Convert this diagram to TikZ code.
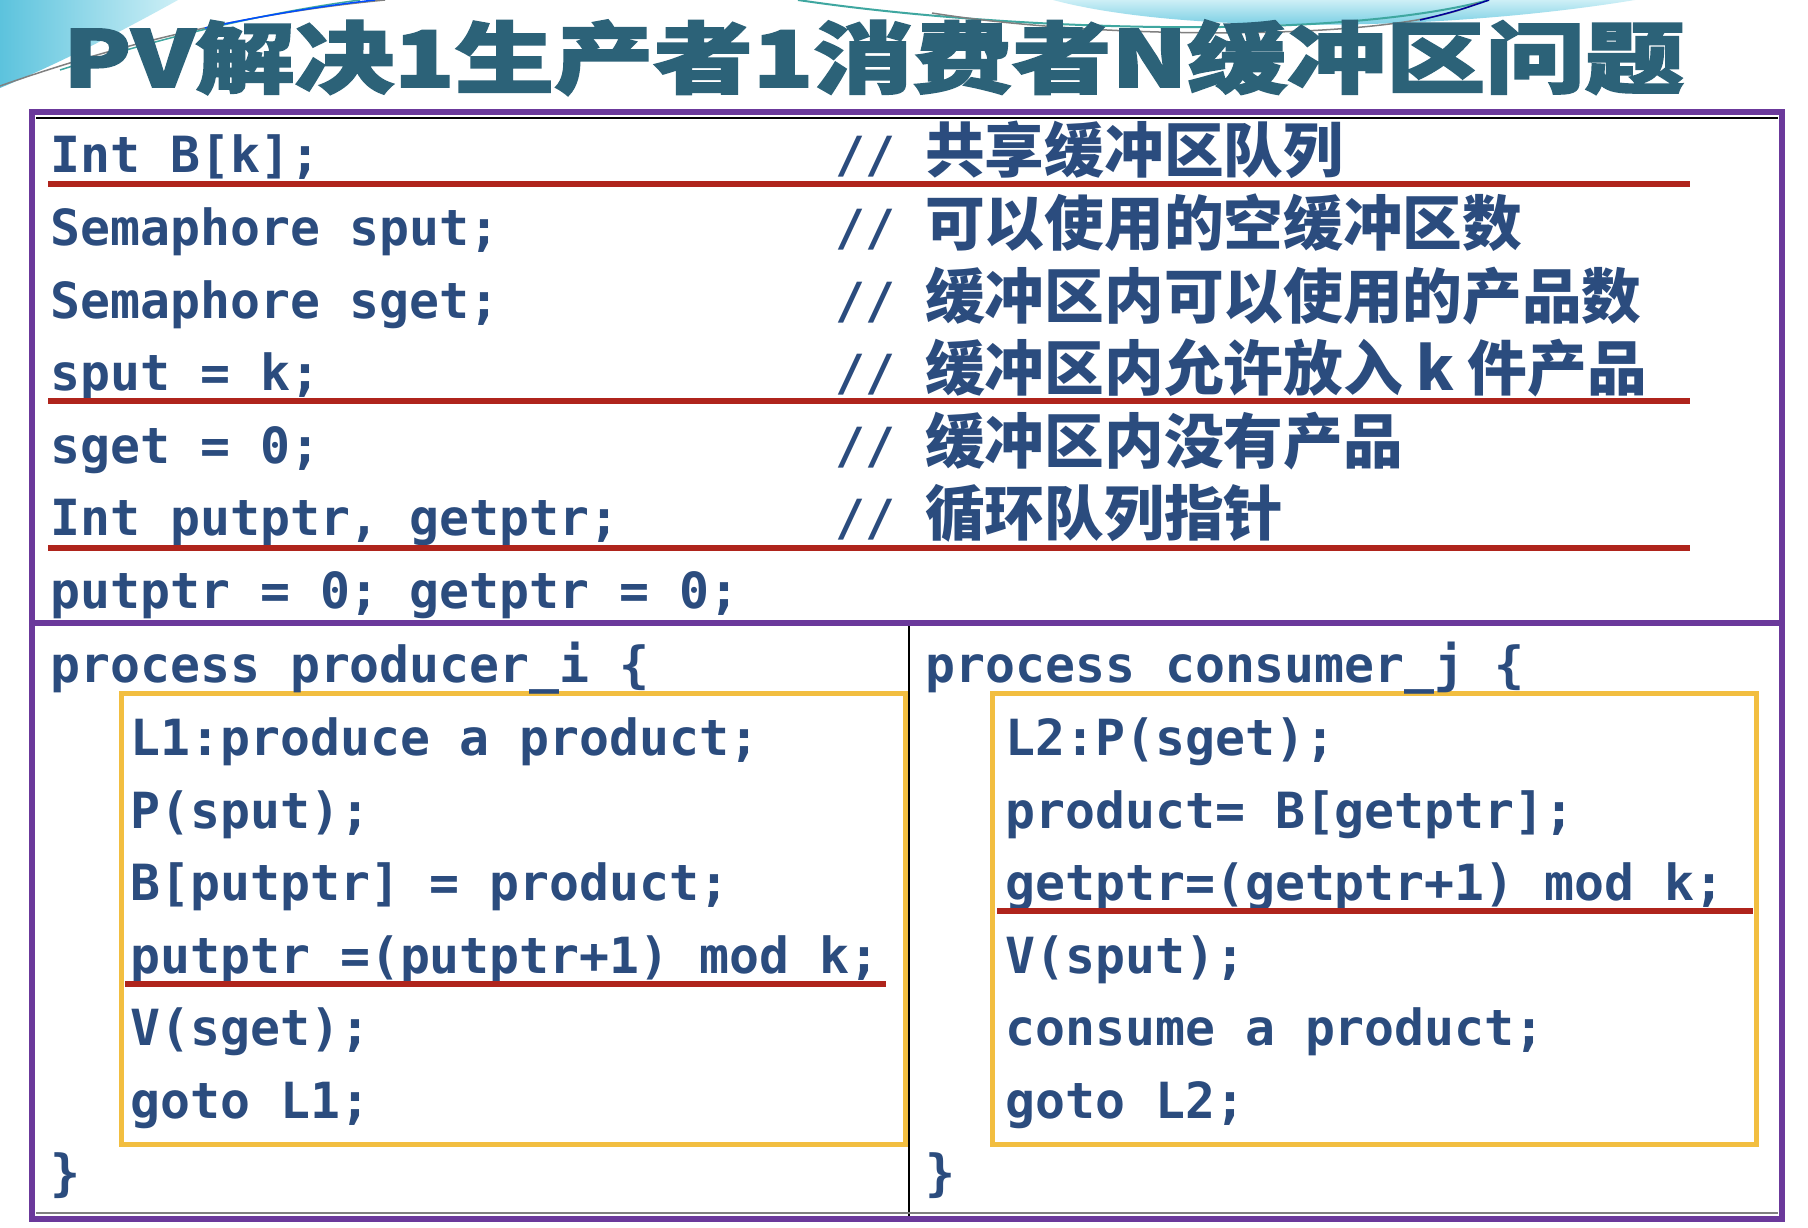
\documentclass[tikz,border=0pt]{standalone}
\usepackage{fontspec}
\usepackage{graphicx}
\newfontfamily\codefont{DejaVu Sans Mono}
\newfontfamily\cjkfont{Noto Sans CJK SC}
\newfontfamily\titlefont{Noto Sans CJK SC}[BoldFeatures={FakeBold=2}]
\definecolor{codeblue}{HTML}{2B4C7E}
\definecolor{titleteal}{HTML}{2C6278}
\definecolor{boxpurple}{HTML}{6B399B}
\definecolor{markred}{HTML}{AF241C}
\definecolor{boxyellow}{HTML}{F2BE40}
\definecolor{decocyan}{HTML}{5CC3DD}
\definecolor{decolight}{HTML}{CDEFF6}
\definecolor{decoteal}{HTML}{3FA7A0}
\newcommand\cmtline[1]{\makebox[90pt][l]{//}{\cjkfont\bfseries\fontsize{59.7pt}{62pt}\selectfont #1}}
\begin{document}
\begin{tikzpicture}[x=1pt,y=-1pt,
  code/.style={anchor=base west,inner sep=0pt,text=codeblue,
    font=\frenchspacing\codefont\bfseries\fontsize{49.8pt}{60pt}\selectfont},
  outerframe/.style={draw=boxpurple,line width=6pt},
  ybox/.style={draw=boxyellow,line width=5pt},
  redline/.style={draw=markred,line width=6pt},
  divline/.style={draw=black,line width=1.5pt}]
\useasboundingbox (0,0) rectangle (1808,1228);
\fill[white] (0,0) rectangle (1808,1228);
% decorations
\shade[left color=decocyan,right color=decolight] (0,0) -- (178,0) .. controls (115,35) and (55,65) .. (0,88) -- cycle;
\draw[gray,line width=1.5pt] (0,86) .. controls (130,40) and (260,12) .. (385,0);
\draw[decoteal,line width=1.5pt] (60,70) .. controls (170,35) and (270,12) .. (360,0);
\draw[blue!70!cyan,line width=1.5pt] (205,28) .. controls (270,14) and (330,5) .. (375,0);
\shade[top color=decolight,bottom color=decocyan] (1053,0) .. controls (1180,34) and (1440,32) .. (1635,0) -- cycle;
\draw[decoteal,line width=2pt] (798,0) .. controls (1000,30) and (1330,42) .. (1489,0);
\draw[gray,line width=1.5pt] (932,13) .. controls (1100,40) and (1400,42) .. (1477,3);
\draw[blue!60!black,line width=1.5pt] (1420,20) .. controls (1455,12) and (1475,5) .. (1489,0);
% title
\node[anchor=base west,inner sep=0pt,text=titleteal,
  font=\titlefont\bfseries\fontsize{78pt}{80pt}\selectfont] (title) at (63,87)
  {\resizebox{1621pt}{\height}{PV解决1生产者1消费者N缓冲区问题}};
% frame coordinates
\coordinate (tl) at (32,112);
\coordinate (br) at (1782,1219);
\coordinate (ml) at (32,623);
\coordinate (mr) at (1782,623);
\coordinate (vt) at (909,623);
\coordinate (vb) at (909,1219);
% yellow boxes
\draw[ybox] (121,693) rectangle (905,1144);
\draw[ybox] (992,693) rectangle (1756,1144);
% top declarations
\node[code] (d1) at (50,172.5) {Int B[k];};
\node[code] (d2) at (50,245) {Semaphore sput;};
\node[code] (d3) at (50,318) {Semaphore sget;};
\node[code] (d4) at (50,390) {sput = k;};
\node[code] (d5) at (50,463) {sget = 0;};
\node[code] (d6) at (50,535) {Int putptr, getptr;};
\node[code] (d7) at (50,608) {putptr = 0; getptr = 0;};
\node[code] (c1) at (835,172.5) {\cmtline{共享缓冲区队列}};
\node[code] (c2) at (835,245) {\cmtline{可以使用的空缓冲区数}};
\node[code] (c3) at (835,318) {\cmtline{缓冲区内可以使用的产品数}};
\node[code] (c4) at (835,390) {\cmtline{缓冲区内允许放入 k 件产品}};
\node[code] (c5) at (835,463) {\cmtline{缓冲区内没有产品}};
\node[code] (c6) at (835,535) {\cmtline{循环队列指针}};
% producer
\node[code] (p0) at (50,682) {process producer\_i \{};
\node[code] (p1) at (130,755) {L1:produce a product;};
\node[code] (p2) at (130,828) {P(sput);};
\node[code] (p3) at (130,900) {B[putptr] = product;};
\node[code] (p4) at (130,973) {putptr =(putptr+1) mod k;};
\node[code] (p5) at (130,1045) {V(sget);};
\node[code] (p6) at (130,1118) {goto L1;};
\node[code] (p7) at (50,1190) {\}};
% consumer
\node[code] (q0) at (925,682) {process consumer\_j \{};
\node[code] (q1) at (1005,755) {L2:P(sget);};
\node[code] (q2) at (1005,828) {product= B[getptr];};
\node[code] (q3) at (1005,900) {getptr=(getptr+1) mod k;};
\node[code] (q4) at (1005,973) {V(sput);};
\node[code] (q5) at (1005,1045) {consume a product;};
\node[code] (q6) at (1005,1118) {goto L2;};
\node[code] (q7) at (925,1190) {\}};
% red marks
\draw[redline] (48,184.5) -- (1690,184.5);
\draw[redline] (48,401) -- (1690,401);
\draw[redline] (48,548) -- (1690,548);
\draw[redline] (125,984) -- (886,984);
\draw[redline] (997,911) -- (1753,911);
% frame
\draw[divline] (vt) -- (vb);
\draw[divline] (36,118) -- (1778,118);
\draw[gray,line width=1.5pt] (36,1213) -- (1778,1213);
\draw[outerframe] (tl) rectangle (br);
\draw[outerframe] (ml) -- (mr);
\end{tikzpicture}
\end{document}
